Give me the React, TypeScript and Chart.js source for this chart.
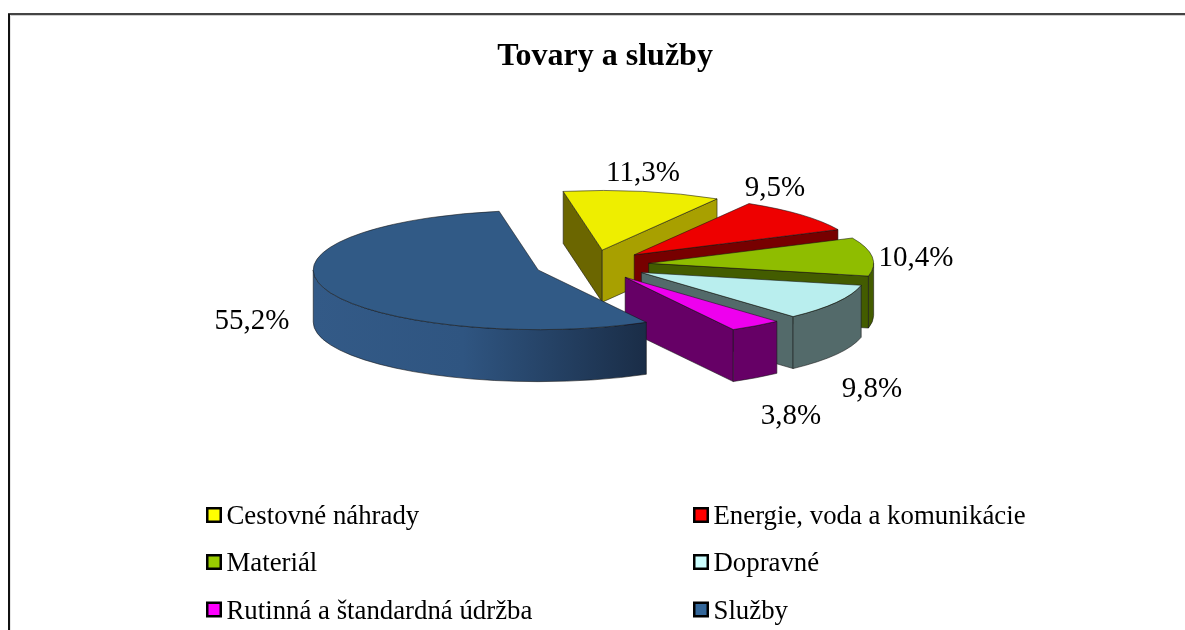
import React, { useEffect, useRef } from "react";
import { Chart, registerables } from "chart.js";

Chart.register(...registerables);

const chartTitle = "Tovary a služby";
const categories = [
  "Cestovné náhrady",
  "Energie, voda a komunikácie",
  "Materiál",
  "Dopravné",
  "Rutinná a štandardná údržba",
  "Služby",
];
const shares = [11.3, 9.5, 10.4, 9.8, 3.8, 55.2];

const legendColors = ["#ffff00", "#ff0000", "#99cc00", "#ccffff", "#ff00ff", "#336699"];
const topColors = ["#eeee00", "#ee0000", "#8fbd00", "#b9eeee", "#ee00ee", "#315a86"];
const startWallColors = ["#6b6600", "#770000", "#435c00", "#536a6a", "#660066", "#1a2d47"];
const endWallColors = ["#a8a000", "#770000", "#435c00", "#536a6a", "#660066", "#1a2d47"];
const rimColors = ["#a8a000", "#770000", "#435c00", "#536a6a", "#660066", "#2f5581"];

const SERIF = '"Liberation Serif", serif';
const CX = 592;
const CY = 265;
const SQUASH = 0.265;
const DEPTH = 52;
const RADIUS = 225;
const EXPLODE = 57;
const LABEL_POS = [
  [643, 173],
  [775, 188],
  [916, 258],
  [872, 389],
  [791, 416],
  [252, 321],
];
const LEGEND_COLS = [206, 693];
const LEGEND_ROWS = [515, 562, 609.5];

const pseudo3d = {
  id: "pseudo3d",
  beforeDraw(chart: any) {
    const { ctx } = chart;
    ctx.save();
    ctx.fillStyle = "#ffffff";
    ctx.fillRect(0, 0, 1185, 630);
    ctx.fillStyle = "#cfcfcf";
    ctx.fillRect(10, 15, 1175, 1);
    ctx.fillStyle = "#e6e6e6";
    ctx.fillRect(10, 15, 1, 615);
    ctx.fillStyle = "#444444";
    ctx.fillRect(8, 13, 1177, 2);
    ctx.fillStyle = "#111111";
    ctx.fillRect(8, 14, 2, 616);
    ctx.restore();
  },
  beforeDatasetDraw(chart: any, args: any) {
    const { ctx } = chart;
    const arcs = args.meta.data;
    arcs.forEach((arc: any, i: number) => {
      const a0 = arc.startAngle;
      const a1 = arc.endAngle;
      const R = arc.outerRadius;
      const mid = (a0 + a1) / 2;
      const ax = CX + Math.cos(mid) * EXPLODE;
      const ay = CY + Math.sin(mid) * EXPLODE * SQUASH;
      const rim = (a: number) => [ax + Math.cos(a) * R, ay + Math.sin(a) * R * SQUASH];

      ctx.save();
      ctx.lineWidth = 0.8;
      ctx.strokeStyle = "rgba(20,20,20,0.7)";
      ctx.lineJoin = "round";

      const wall = (a: number, color: string) => {
        const [x, y] = rim(a);
        ctx.beginPath();
        ctx.moveTo(ax, ay);
        ctx.lineTo(x, y);
        ctx.lineTo(x, y + DEPTH);
        ctx.lineTo(ax, ay + DEPTH);
        ctx.closePath();
        ctx.fillStyle = color;
        ctx.fill();
        ctx.stroke();
      };
      if (Math.cos(a0) < 0) wall(a0, startWallColors[i]);
      if (Math.cos(a1) > 0) wall(a1, endWallColors[i]);

      const b0 = Math.max(a0, 0);
      const b1 = Math.min(a1, Math.PI);
      if (b1 > b0) {
        const [xs] = rim(b0);
        const [xe] = rim(b1);
        const left = Math.min(xs, xe);
        const right = Math.max(xs, xe);
        ctx.beginPath();
        ctx.ellipse(ax, ay, R, R * SQUASH, 0, b0, b1);
        ctx.ellipse(ax, ay + DEPTH, R, R * SQUASH, 0, b1, b0, true);
        ctx.closePath();
        if (b1 - b0 > 1.5) {
          const g = ctx.createLinearGradient(left, 0, right, 0);
          g.addColorStop(0, "#335a87");
          g.addColorStop(0.45, "#2f5581");
          g.addColorStop(1, startWallColors[i]);
          ctx.fillStyle = g;
        } else {
          ctx.fillStyle = rimColors[i];
        }
        ctx.fill();
        ctx.stroke();
      }

      ctx.save();
      ctx.translate(ax, ay);
      ctx.scale(1, SQUASH);
      ctx.translate(-arc.x, -arc.y);
      arc.draw(ctx, chart.chartArea);
      ctx.restore();

      const [sx, sy] = rim(a0);
      ctx.beginPath();
      ctx.moveTo(ax, ay);
      ctx.lineTo(sx, sy);
      ctx.ellipse(ax, ay, R, R * SQUASH, 0, a0, a1);
      ctx.closePath();
      ctx.stroke();
      ctx.restore();
    });
    return false;
  },
  afterDraw(chart: any) {
    const { ctx } = chart;
    ctx.save();
    ctx.fillStyle = "#000000";
    ctx.textBaseline = "middle";
    ctx.textAlign = "center";
    ctx.font = `29px ${SERIF}`;
    shares.forEach((v, i) => {
      ctx.fillText(v.toFixed(1).replace(".", ",") + "%", LABEL_POS[i][0], LABEL_POS[i][1]);
    });
    ctx.textAlign = "left";
    ctx.font = `26.8px ${SERIF}`;
    categories.forEach((name, i) => {
      const x = LEGEND_COLS[i % 2];
      const y = LEGEND_ROWS[Math.floor(i / 2)];
      ctx.fillStyle = "#000000";
      ctx.fillRect(x, y - 8, 16, 16);
      ctx.fillStyle = legendColors[i];
      ctx.fillRect(x + 2.5, y - 5.5, 11, 11);
      ctx.fillStyle = "#000000";
      ctx.fillText(name, x + 20.5, y + 2);
    });
    ctx.restore();
  },
};

export default function App() {
  const ref = useRef<HTMLCanvasElement | null>(null);
  useEffect(() => {
    const chart = new Chart(ref.current as HTMLCanvasElement, {
      type: "pie",
      plugins: [pseudo3d],
      data: {
        labels: categories,
        datasets: [
          {
            data: shares,
            backgroundColor: topColors,
            borderWidth: 0,
            offset: 0,
            radius: RADIUS,
            hoverOffset: 0,
          } as any,
        ],
      },
      options: {
        responsive: false,
        animation: false,
        rotation: -10,
        layout: { padding: { left: 25 } },
        events: [],
        plugins: {
          legend: { display: false },
          tooltip: { enabled: false },
          title: {
            display: true,
            text: chartTitle,
            color: "#000000",
            font: { family: SERIF, size: 32, weight: "bold" },
            padding: { top: 38, bottom: 10 },
          },
        },
      },
    });
    return () => chart.destroy();
  }, []);
  return (
    <canvas
      ref={ref}
      width={1185}
      height={630}
      style={{
        position: "fixed",
        left: 0,
        top: 0,
        width: 1185,
        height: 630,
        display: "block",
        filter: "blur(0.4px)",
      }}
    />
  );
}
